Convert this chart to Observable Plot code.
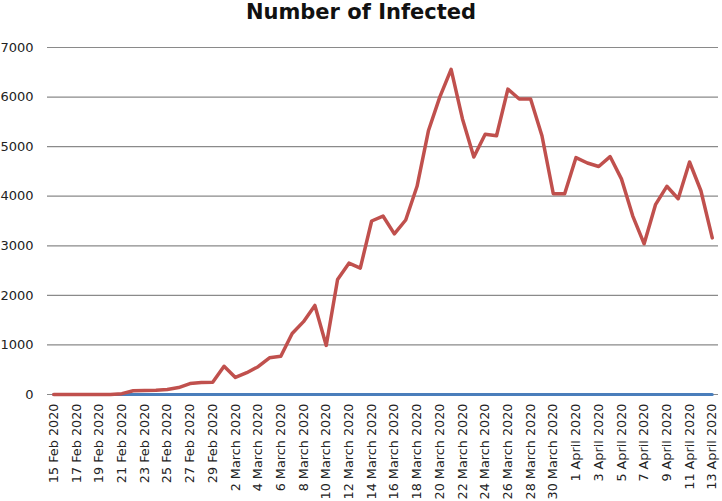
<!DOCTYPE html>
<html>
<head>
<meta charset="utf-8">
<script src="https://cdn.jsdelivr.net/npm/d3@7"></script>
<script src="https://cdn.jsdelivr.net/npm/@observablehq/plot@0.6"></script>
<style>
  html, body { margin: 0; padding: 0; background: #fff; }
  #wrap { position: relative; width: 722px; height: 501px; overflow: hidden; }
  #title { position: absolute; left: 0; top: 0px; width: 722px; text-align: center;
           font-family: "DejaVu Sans", sans-serif; font-weight: 700; font-size: 21px;
           line-height: normal; color: #111; z-index: 2; }
</style>
</head>
<body>
<div id="wrap">
  <div id="title">Number of Infected</div>
</div>
<script>
const days = [
  "15 Feb 2020","16 Feb 2020","17 Feb 2020","18 Feb 2020","19 Feb 2020","20 Feb 2020","21 Feb 2020",
  "22 Feb 2020","23 Feb 2020","24 Feb 2020","25 Feb 2020","26 Feb 2020","27 Feb 2020","28 Feb 2020","29 Feb 2020",
  "1 March 2020","2 March 2020","3 March 2020","4 March 2020","5 March 2020","6 March 2020","7 March 2020",
  "8 March 2020","9 March 2020","10 March 2020","11 March 2020","12 March 2020","13 March 2020","14 March 2020",
  "15 March 2020","16 March 2020","17 March 2020","18 March 2020","19 March 2020","20 March 2020","21 March 2020",
  "22 March 2020","23 March 2020","24 March 2020","25 March 2020","26 March 2020","27 March 2020","28 March 2020",
  "29 March 2020","30 March 2020","31 March 2020",
  "1 April 2020","2 April 2020","3 April 2020","4 April 2020","5 April 2020","6 April 2020","7 April 2020",
  "8 April 2020","9 April 2020","10 April 2020","11 April 2020","12 April 2020","13 April 2020"
];

const infected = [
  0, 0, 0, 0, 0, 0, 17,
  75, 80, 85, 100, 140, 220, 240, 245,
  570, 345, 440, 560, 740, 770, 1230,
  1470, 1797, 990, 2320, 2650, 2550, 3500,
  3600, 3240, 3520, 4200, 5320, 6000, 6560,
  5560, 4790, 5250, 5220, 6160, 5960, 5960,
  5220, 4050, 4050,
  4780, 4670, 4600, 4800, 4350, 3600, 3040,
  3830, 4200, 3950, 4690, 4110, 3160
];

const secondSeries = [
  0, 0, 0, 0, 0, 0, 0,
  0, 0, 0, 0, 0, 0, 0, 0,
  0, 0, 0, 0, 0, 0, 0,
  0, 0, 0, 0, 0, 0, 0,
  0, 0, 0, 0, 0, 0, 0,
  0, 0, 0, 0, 0, 0, 0,
  0, 0, 0,
  0, 0, 0, 0, 0, 0, 0,
  0, 0, 0, 0, 0, 0
];

const tickDays = days.filter((d, i) => i % 2 === 0);
const yTicks = [0, 1000, 2000, 3000, 4000, 5000, 6000, 7000];

const chart = Plot.plot({
  width: 722,
  height: 501,
  marginTop: 47,
  marginBottom: 107,
  marginLeft: 47,
  marginRight: 4,
  style: { fontFamily: "DejaVu Sans, Verdana, sans-serif", fontSize: "13px", color: "#222", background: "transparent", overflow: "visible" },
  x: { type: "point", domain: days, padding: 0.55, round: false, label: null },
  y: { domain: [0, 7000], label: null },
  marks: [
    Plot.gridY(yTicks, { stroke: "#8a8a8a", strokeOpacity: 1, strokeWidth: 1.2 }),
    Plot.axisY(yTicks, { tickSize: 0, tickPadding: 14, label: null, fontSize: 13, tickFormat: d => String(d) }),
    Plot.axisX(tickDays, { tickSize: 0, tickPadding: 9, tickRotate: -90, label: null, fontSize: 12.8 }),
    Plot.line(days, { x: d => d, y: (d, i) => secondSeries[i], stroke: "#4a7ebb", strokeWidth: 3 }),
    Plot.line(days, { x: d => d, y: (d, i) => infected[i], stroke: "#c0504d", strokeWidth: 3.5, strokeLinejoin: "round" })
  ]
});
chart.style.position = "absolute";
chart.style.left = "0";
chart.style.top = "0";
document.getElementById("wrap").appendChild(chart);
</script>
</body>
</html>
